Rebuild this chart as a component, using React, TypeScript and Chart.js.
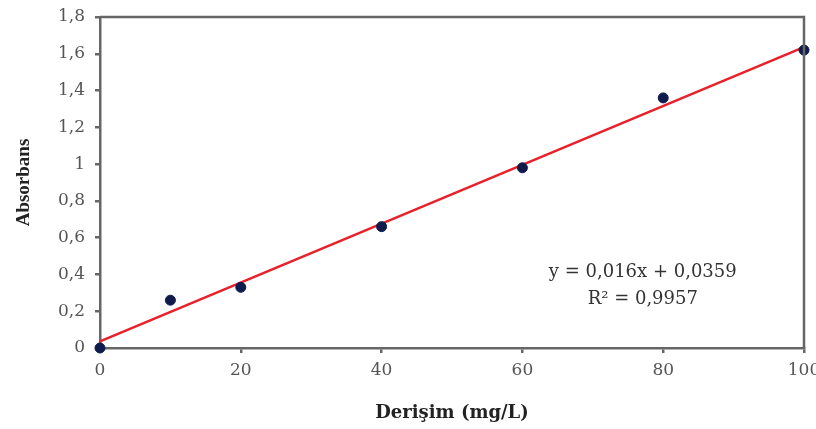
import React, { useEffect, useRef } from "react";
import { Chart, registerables } from "chart.js";

Chart.register(...registerables);

const concentrations = [0, 10, 20, 40, 60, 80, 100];
const absorbances = [0, 0.26, 0.33, 0.66, 0.98, 1.36, 1.62];
const trendX = [0, 100];
const trendY = [0.0359, 1.6359];
const xTicks = [0, 20, 40, 60, 80, 100];
const yTicks = [0, 0.2, 0.4, 0.6, 0.8, 1, 1.2, 1.4, 1.6, 1.8];
const equationLines = ["y = 0,016x + 0,0359", "R² = 0,9957"];
const xTitle = "Derişim (mg/L)";
const yTitle = "Absorbans";

const AXIS = "#666666";
const TICK_COLOR = "#555555";

const framePlugin = {
  id: "frameAndEquation",
  afterDatasetsDraw(chart: any) {
    const { ctx, chartArea } = chart;
    ctx.save();
    ctx.strokeStyle = AXIS;
    ctx.lineWidth = 2.5;
    ctx.beginPath();
    ctx.moveTo(chartArea.left, chartArea.top);
    ctx.lineTo(chartArea.right, chartArea.top);
    ctx.lineTo(chartArea.right, chartArea.bottom);
    ctx.stroke();
    const xs = chart.scales.x;
    const ys = chart.scales.y;
    ctx.fillStyle = "#333333";
    ctx.font = "18px 'DejaVu Serif'";
    ctx.textAlign = "center";
    ctx.textBaseline = "middle";
    const cx = xs.getPixelForValue(77.1);
    ctx.fillText(equationLines[0], cx, ys.getPixelForValue(0.413));
    ctx.fillText(equationLines[1], cx, ys.getPixelForValue(0.266));
    ctx.restore();
  },
};

export default function App() {
  const ref = useRef<HTMLCanvasElement | null>(null);
  useEffect(() => {
    if (!ref.current) return;
    const chart = new Chart(ref.current, {
      type: "scatter",
      data: {
        datasets: [
          {
            label: "Ölçüm",
            data: concentrations.map((x, i) => ({ x, y: absorbances[i] })),
            backgroundColor: "#0f1b4c",
            borderColor: "#0f1b4c",
            pointRadius: 5,
            pointHoverRadius: 5,
            clip: false as any,
          },
          {
            label: "Doğrusal",
            data: trendX.map((x, i) => ({ x, y: trendY[i] })),
            showLine: true,
            borderColor: "#e8202a",
            borderWidth: 2.5,
            pointRadius: 0,
            clip: false as any,
          },
        ],
      },
      options: {
        animation: false,
        responsive: true,
        maintainAspectRatio: false,
        layout: { autoPadding: false, padding: { top: 17, right: 12, left: 0, bottom: 0 } },
        plugins: { legend: { display: false }, tooltip: { enabled: false } },
        scales: {
          x: {
            type: "linear",
            min: 0,
            max: 100,
            afterBuildTicks: (s: any) => {
              s.ticks = xTicks.map((v) => ({ value: v }));
            },
            afterFit: (s: any) => {
              s.height = 81;
              s.paddingLeft = 0;
              s.paddingRight = 0;
            },
            grid: { drawOnChartArea: false, drawTicks: true, tickLength: 5, color: AXIS, lineWidth: 2.5 },
            border: { display: true, color: AXIS, width: 2.5 },
            ticks: {
              color: TICK_COLOR,
              font: { family: "'DejaVu Serif'", size: 17 },
              padding: 7,
              maxRotation: 0,
              callback: (v: any) => String(v),
            },
            title: {
              display: true,
              text: xTitle,
              color: "#222222",
              font: { family: "'DejaVu Serif'", size: 18, weight: "bold" },
              padding: { top: 0, bottom: 5 },
            },
          },
          y: {
            type: "linear",
            min: 0,
            max: 1.8,
            afterBuildTicks: (s: any) => {
              s.ticks = yTicks.map((v) => ({ value: v }));
            },
            afterFit: (s: any) => {
              s.width = 100;
              s.paddingTop = 0;
              s.paddingBottom = 0;
            },
            grid: { drawOnChartArea: false, drawTicks: true, tickLength: 5, color: AXIS, lineWidth: 2.5 },
            border: { display: true, color: AXIS, width: 2.5 },
            ticks: {
              color: TICK_COLOR,
              font: { family: "'DejaVu Serif'", size: 17 },
              padding: 10,
              callback: (v: any) => String(Number(Number(v).toFixed(1))).replace(".", ","),
            },
            title: {
              display: true,
              text: yTitle,
              color: "#222222",
              font: { family: "'Liberation Serif'", size: 19, weight: "bold" },
              padding: { top: 13, bottom: 0 },
            },
          },
        },
      },
      plugins: [framePlugin],
    });
    return () => chart.destroy();
  }, []);
  return (
    <div style={{ position: "fixed", left: 0, top: 0, width: 816, height: 429, background: "#fff" }}>
      <canvas ref={ref} />
    </div>
  );
}
